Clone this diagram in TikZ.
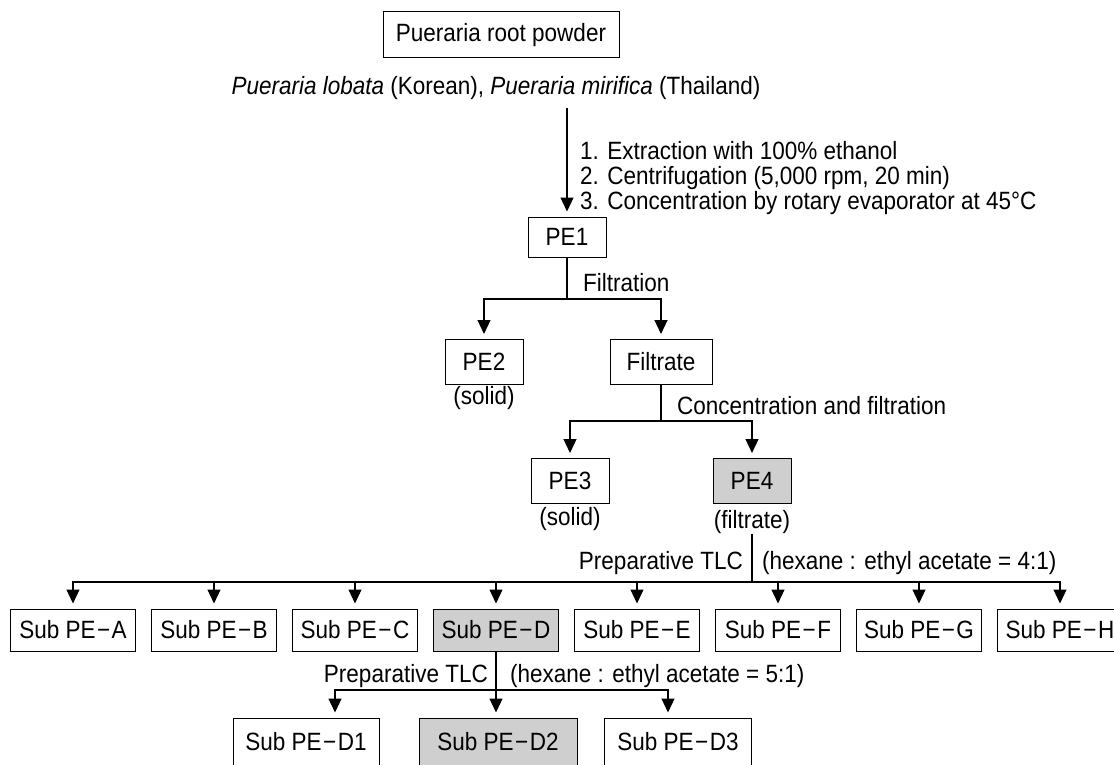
\documentclass[tikz,border=0pt]{standalone}
\usepackage{fontspec}
\setmainfont{Liberation Sans}[FakeStretch=0.9]
\usetikzlibrary{arrows.meta}

\definecolor{boxgray}{RGB}{207,207,207}

\newcommand{\subname}[1]{Sub PE\kern1.5pt−\kern1.5pt#1}

\tikzset{
	box/.style={draw, line width=1pt, inner sep=0pt, minimum height=42pt, font=\fontsize{25}{25}\selectfont},
	graybox/.style={box, fill=boxgray},
	note/.style={inner sep=0pt, font=\fontsize{25}{25}\selectfont},
	link/.style={line width=1.2pt},
	feed/.style={link, -{Triangle[length=14pt,width=13pt]}, shorten >=5pt},
}

\begin{document}
\begin{tikzpicture}[x=1pt, y=-1pt]
	\useasboundingbox (0,0) rectangle (1114,765);

	% raw material
	\node[box, minimum width=236pt, minimum height=46pt] (root) at (501,35) {Pueraria root powder};
	\node[note] (species) at (496,88) {\textit{Pueraria lobata} (Korean), \textit{Pueraria mirifica} (Thailand)};
	\coordinate (start) at (567,108);

	\node[note, anchor=west, align=left] (steps) at (580,178) {1. Extraction with 100\% ethanol\\2. Centrifugation (5,000 rpm, 20 min)\\3. Concentration by rotary evaporator at 45°C};
	\node[box, minimum width=78pt, minimum height=40pt] (pe1) at (567,237) {PE1};
	\draw[feed] (start) -- (pe1);

	% filtration
	\coordinate (split1) at (567,299);
	\node[note, anchor=west] (filtration) at (583,283) {Filtration};
	\node[box, minimum width=78pt, minimum height=45pt] (pe2) at (484,362) {PE2};
	\node[box, minimum width=102pt, minimum height=45pt] (filtrate) at (661,362) {Filtrate};
	\node[note] (solid1) at (484,398) {(solid)};
	\draw[link] (pe1) -- (split1);
	\draw[feed] (split1) -| (pe2);
	\draw[feed] (split1) -| (filtrate);

	% concentration
	\coordinate (split2) at (661,421);
	\node[note, anchor=west] (conc) at (677,406) {Concentration and filtration};
	\node[box, minimum width=78pt, minimum height=45pt] (pe3) at (570,481) {PE3};
	\node[graybox, minimum width=78pt, minimum height=45pt] (pe4) at (752,481) {PE4};
	\node[note] (solid2) at (570,519) {(solid)};
	\node[note] (filt2) at (752,522) {(filtrate)};
	\draw[link] (filtrate) -- (split2);
	\draw[feed] (split2) -| (pe3);
	\draw[feed] (split2) -| (pe4);

	% first TLC
	\coordinate (split3) at (752,582);
	\node[note, anchor=east] (tlc1) at (743,563) {Preparative TLC};
	\node[note, anchor=west] (solv1) at (762,563) {(hexane : ethyl acetate = 4:1)};
	\draw[link] (filt2) -- (split3);
	\foreach \s/\st [count=\i from 0] in {A/box, B/box, C/box, D/graybox, E/box, F/box, G/box, H/box} {
		\node[\st, minimum width=125pt] (sub\s) at ({73+141*\i},630) {\subname{\s}};
		\draw[feed] (split3) -| (sub\s);
	}

	% second TLC
	\coordinate (split4) at (496,690);
	\node[note, anchor=east] (tlc2) at (488,676) {Preparative TLC};
	\node[note, anchor=west] (solv2) at (510,676) {(hexane : ethyl acetate = 5:1)};
	\node[box, minimum width=146pt, minimum height=48pt] (d1) at (306,742) {\subname{D1}};
	\node[graybox, minimum width=158pt, minimum height=48pt] (d2) at (498,742) {\subname{D2}};
	\node[box, minimum width=147pt, minimum height=48pt] (d3) at (678,742) {\subname{D3}};
	\draw[feed] (subD) -- (subD |- d2.north);
	\draw[feed] (split4) -| ([xshift=29pt]d1.north);
	\draw[feed] (split4) -| ([xshift=-10pt]d3.north);
\end{tikzpicture}
\end{document}
